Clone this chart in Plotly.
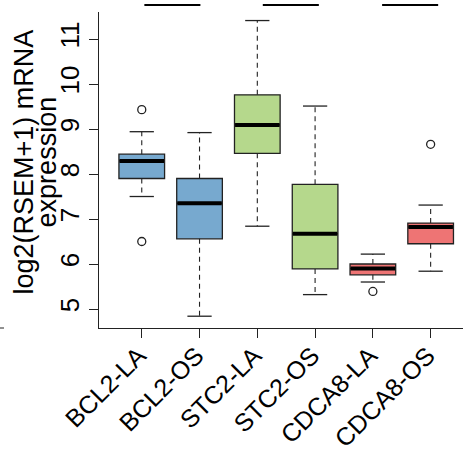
import plotly.graph_objects as go

# ---- data ----
groups = ["BCL2-LA", "BCL2-OS", "STC2-LA", "STC2-OS", "CDCA8-LA", "CDCA8-OS"]
q1 = [7.90, 6.56, 8.46, 5.89, 5.76, 6.45]
median = [8.29, 7.35, 9.09, 6.67, 5.90, 6.82]
q3 = [8.44, 7.90, 9.76, 7.77, 6.00, 6.91]
lower_whisker = [7.50, 4.84, 6.84, 5.32, 5.60, 5.84]
upper_whisker = [8.94, 8.92, 11.41, 9.51, 6.22, 7.31]
outlier_group = ["BCL2-LA", "BCL2-LA", "CDCA8-LA", "CDCA8-OS"]
outlier_value = [9.43, 6.50, 5.39, 8.66]
colors = ["#77A9CF", "#77A9CF", "#B5D88C", "#B5D88C", "#EE7474", "#EE7474"]
comparisons = [("BCL2-LA", "BCL2-OS"), ("STC2-LA", "STC2-OS"), ("CDCA8-LA", "CDCA8-OS")]
y_ticks = [5, 6, 7, 8, 9, 10, 11]
y_title = ["log2(RSEM+1) mRNA", "expression"]

# ---- style ----
FONT = "Liberation Sans, Arial, sans-serif"
INK = "#222222"
BOX_W = 0.79
CAP_HALF = 0.21
pos = {g: i + 1 for i, g in enumerate(groups)}

fig = go.Figure()

for i, g in enumerate(groups):
    x = pos[g]
    # box body (fences at quartiles; whiskers drawn separately, R style)
    fig.add_trace(go.Box(
        x=[x], q1=[q1[i]], median=[median[i]], q3=[q3[i]],
        lowerfence=[q1[i]], upperfence=[q3[i]],
        width=BOX_W, fillcolor=colors[i], whiskerwidth=0,
        line=dict(color=INK, width=1.3), boxpoints=False,
        showlegend=False, hoverinfo="skip"))
    # dashed whiskers
    fig.add_trace(go.Scatter(
        x=[x, x, None, x, x],
        y=[q3[i], upper_whisker[i], None, q1[i], lower_whisker[i]],
        mode="lines", line=dict(color=INK, width=1.1, dash="5px,4px"),
        showlegend=False, hoverinfo="skip"))
    # staples
    fig.add_trace(go.Scatter(
        x=[x - CAP_HALF, x + CAP_HALF, None, x - CAP_HALF, x + CAP_HALF],
        y=[upper_whisker[i], upper_whisker[i], None, lower_whisker[i], lower_whisker[i]],
        mode="lines", line=dict(color=INK, width=1.3),
        showlegend=False, hoverinfo="skip"))
    # thick median
    fig.add_trace(go.Scatter(
        x=[x - BOX_W / 2 + 0.01, x + BOX_W / 2 - 0.01], y=[median[i], median[i]],
        mode="lines", line=dict(color="black", width=4),
        showlegend=False, hoverinfo="skip"))

# outliers
fig.add_trace(go.Scatter(
    x=[pos[g] for g in outlier_group], y=outlier_value, mode="markers",
    marker=dict(symbol="circle-open", size=8, color=INK, line=dict(width=1.3)),
    showlegend=False, hoverinfo="skip"))

# comparison bars above the plot
bar_shift = [0.03, 0.08, 0.145]
for k, (a, b) in enumerate(comparisons):
    mid = (pos[a] + pos[b]) / 2 + bar_shift[k]
    fig.add_shape(type="line", xref="x", yref="paper",
                  x0=mid - 0.485, x1=mid + 0.485, y0=1.022, y1=1.022,
                  line=dict(color="black", width=2))

# stray tick at far left
fig.add_shape(type="line", xref="paper", yref="paper",
              x0=-0.272, x1=-0.261, y0=0, y1=0, line=dict(color=INK, width=1))

# y title as two lines
fig.add_annotation(text=y_title[0], xref="paper", yref="paper", x=-0.205, y=0.525,
                   xanchor="center", yanchor="middle", textangle=-90, showarrow=False,
                   font=dict(family=FONT, size=27, color="black"))
fig.add_annotation(text=y_title[1], xref="paper", yref="paper", x=-0.142, y=0.525,
                   xanchor="center", yanchor="middle", textangle=-90, showarrow=False,
                   font=dict(family=FONT, size=27, color="black"))

fig.update_layout(
    width=464, height=449,
    margin=dict(l=99, r=1, t=12, b=121),
    paper_bgcolor="white", plot_bgcolor="white",
    font=dict(family=FONT, size=26, color="black"),
    showlegend=False,
    xaxis=dict(range=[0.26, 6.56], tickmode="array", tickvals=list(range(1, len(groups) + 1)),
               ticktext=groups, tickangle=-45, ticks="outside", ticklen=9,
               ticklabelstandoff=-7, ticklabelshift=-3,
               tickcolor=INK, showline=True, linecolor=INK, linewidth=1,
               showgrid=False, zeroline=False, automargin=False,
               tickfont=dict(family=FONT, size=25, color="black")),
    yaxis=dict(range=[4.578, 11.6], tickmode="array", tickvals=y_ticks,
               ticktext=[str(v) for v in y_ticks], tickangle=-90, ticks="outside",
               ticklen=9, tickcolor=INK, showline=True, linecolor=INK, linewidth=1,
               showgrid=False, zeroline=False, automargin=False,
               tickfont=dict(family=FONT, size=26, color="black")),
)

fig.write_html("out.html", config={"displayModeBar": False},
               post_script="document.body.style.margin='0';document.body.style.overflow='hidden';")
